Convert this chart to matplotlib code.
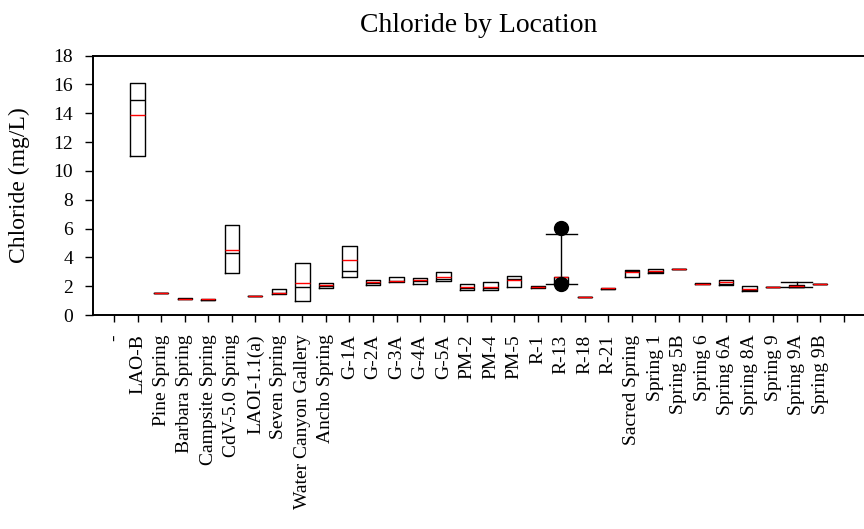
import matplotlib
matplotlib.use('Agg')
import matplotlib.pyplot as plt
import numpy as np

plt.rcParams['font.family'] = ['Liberation Serif', 'DejaVu Serif']

# locations along the x axis ("-" has no samples)
locations = ['-', 'LAO-B', 'Pine Spring', 'Barbara Spring', 'Campsite Spring',
             'CdV-5.0 Spring', 'LAOI-1.1(a)', 'Seven Spring', 'Water Canyon Gallery',
             'Ancho Spring', 'G-1A', 'G-2A', 'G-3A', 'G-4A', 'G-5A', 'PM-2', 'PM-4',
             'PM-5', 'R-1', 'R-13', 'R-18', 'R-21', 'Sacred Spring', 'Spring 1',
             'Spring 5B', 'Spring 6', 'Spring 6A', 'Spring 8A', 'Spring 9',
             'Spring 9A', 'Spring 9B']

nan = np.nan
q1 = [nan, 11.05, 1.55, 1.09, 1.03, 2.90, 1.30, 1.48, 0.99, 1.88, 2.64, 2.06, 2.27,
      2.18, 2.36, 1.72, 1.72, 1.95, 1.88, 2.15, 1.22, 1.78, 2.62, 2.92, 3.20, 2.15,
      2.08, 1.64, 1.95, 1.92, 2.15]
medians = [nan, 14.95, 1.55, 1.12, 1.05, 4.33, 1.30, 1.51, 1.97, 2.00, 3.03, 2.20,
           2.33, 2.33, 2.52, 1.90, 1.85, 2.48, 1.95, 2.15, 1.25, 1.82, 3.07, 2.98,
           3.20, 2.18, 2.15, 1.75, 1.95, 1.95, 2.15]
q3 = [nan, 16.10, 1.55, 1.19, 1.12, 6.23, 1.30, 1.83, 3.59, 2.25, 4.82, 2.41, 2.64,
      2.59, 2.97, 2.18, 2.31, 2.71, 2.04, 2.66, 1.28, 1.90, 3.10, 3.17, 3.20, 2.22,
      2.41, 2.01, 1.95, 2.06, 2.15]
means = [nan, 13.85, 1.55, 1.14, 1.10, 4.50, 1.30, 1.55, 2.25, 2.06, 3.80, 2.30,
         2.38, 2.41, 2.64, 1.92, 1.92, 2.41, 1.97, 2.66, 1.25, 1.85, 2.96, 3.03,
         3.20, 2.18, 2.27, 1.83, 1.95, 2.00, 2.15]
# whiskers only shown for two locations
whisker_lo = {'R-13': 2.15, 'Spring 9A': 1.92}
whisker_hi = {'R-13': 5.63, 'Spring 9A': 2.27}
outliers = {'R-13': [6.02, 2.15]}

stats, positions, has_whisk = [], [], []
for i, name in enumerate(locations):
    if np.isnan(q1[i]):
        continue
    stats.append(dict(
        label=name,
        q1=q1[i], med=medians[i], q3=q3[i], mean=means[i],
        whislo=whisker_lo.get(name, q1[i]),
        whishi=whisker_hi.get(name, q3[i]),
        fliers=outliers.get(name, []),
    ))
    positions.append(i + 1)
    has_whisk.append(name in whisker_lo)

fig = plt.figure(figsize=(8.64, 5.29), dpi=100)
ax = fig.add_axes([0.1073, 0.4045, 0.9124, 0.4905])

parts = ax.bxp(stats, positions=positions, widths=0.61, capwidths=1.3,
               showmeans=True, meanline=True, showfliers=True,
               boxprops=dict(color='black', linewidth=1.0),
               medianprops=dict(color='black', linewidth=1.0),
               meanprops=dict(color='red', linewidth=1.0, linestyle='-'),
               whiskerprops=dict(color='black', linewidth=1.0),
               capprops=dict(color='black', linewidth=1.0),
               flierprops=dict(marker='o', markerfacecolor='black',
                               markeredgecolor='black', markersize=10))

# hide whiskers and caps where the chart shows none
for k, show in enumerate(has_whisk):
    for line in parts['whiskers'][2 * k:2 * k + 2] + parts['caps'][2 * k:2 * k + 2]:
        line.set_visible(show)
for fl in parts['fliers']:
    fl.set_zorder(4)

ax.set_xlim(0.09, 33.59)
ax.set_ylim(0, 18)
ax.set_yticks(np.arange(0, 19, 2))
ax.set_xticks(range(1, 34))
ax.set_xticklabels(locations + ['', ''], rotation=90, fontsize=14)
ax.tick_params(axis='y', direction='out', length=6, width=1, labelsize=14, pad=8)
ax.tick_params(axis='x', direction='out', length=5, width=1, pad=9)

ax.spines['right'].set_visible(False)
for side in ['left', 'bottom', 'top']:
    ax.spines[side].set_linewidth(1.4)

ax.set_ylabel('Chloride (mg/L)', fontsize=17, labelpad=17)
ax.set_title('Chloride by Location', fontsize=20, pad=17, x=0.49)

plt.savefig('out.png', dpi=100)
